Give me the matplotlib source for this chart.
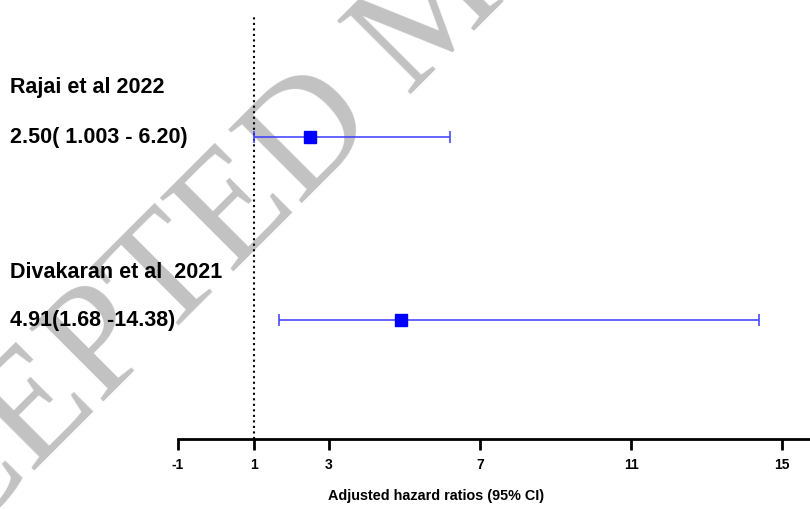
import matplotlib
matplotlib.use("Agg")
import matplotlib.pyplot as plt

# study rows, top to bottom
studies = ["Rajai et al 2022", "Divakaran et al  2021"]
estimates = ["2.50( 1.003 - 6.20)", "4.91(1.68 -14.38)"]
hr = [2.50, 4.91]
lo = [1.003, 1.68]
hi = [6.20, 14.38]
xticks = [-1, 1, 3, 7, 11, 15]
ypos = [2, 1]

plt.rcParams['font.family'] = ['Liberation Sans', 'DejaVu Sans']

fig = plt.figure(figsize=(8.1, 5.1), dpi=100)
ax = fig.add_axes([0.2198, 0.137, 0.7802, 0.833])
ax.patch.set_alpha(0)

# watermark
fig.text(0.541, 0.976, "ACCEPTED MANUSCRIPT", fontsize=114, color='#c2c2c2',
         family='Liberation Serif', rotation=45, ha='center', va='center',
         rotation_mode='anchor', zorder=-1)

for i in range(len(hr)):
    ax.errorbar(hr[i], ypos[i], xerr=[[hr[i] - lo[i]], [hi[i] - hr[i]]],
                fmt='s', color='blue', ecolor='#3a3aff', elinewidth=1.1,
                capsize=4.5, capthick=1.1, markersize=8.5)

ax.axvline(1, color='black', linestyle=':', linewidth=1.5, zorder=0)

ax.set_xlim(-1, 15.74)
ax.set_ylim(0.35, 2.67)
ax.set_xticks(xticks)
ax.set_xticklabels([str(t) for t in xticks], fontsize=10, fontweight='bold')
ax.tick_params(axis='x', direction='out', length=8, width=2, pad=5)
ax.set_yticks([])
for s in ['left', 'right', 'top']:
    ax.spines[s].set_visible(False)
ax.spines['bottom'].set_linewidth(2)
ax.spines['bottom'].set_bounds(-1, 15.74)

ax.set_xlabel("Adjusted hazard ratios (95% CI)", fontsize=10.4,
              fontweight='bold')
ax.xaxis.set_label_coords(0.408, -0.116)

# left labels
for i in range(len(studies)):
    yp = 1 - (87 + (272 - 87) * i) / 510
    ye = 1 - (138 + (321 - 138) * i) / 510
    fig.text(0.012, yp, studies[i], fontsize=15.5, fontweight='bold',
             ha='left', va='center')
    fig.text(0.012, ye, estimates[i], fontsize=15.5, fontweight='bold',
             ha='left', va='center')

fig.savefig("out.png", dpi=100)
